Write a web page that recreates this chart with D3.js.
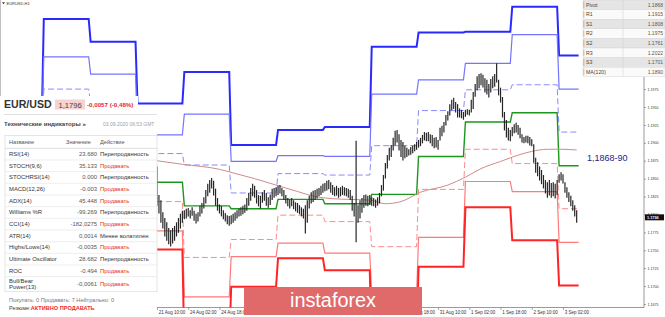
<!DOCTYPE html>
<html><head><meta charset="utf-8">
<script src="https://cdn.jsdelivr.net/npm/d3@7"></script>
<style>html,body{margin:0;padding:0;background:#fff;overflow:hidden}text{font-family:"Liberation Sans",Arial,sans-serif}</style>
</head><body><svg id="c" width="665" height="317" xmlns="http://www.w3.org/2000/svg"></svg>
<script>
// ---------- DATA ----------
// hourly bars from 21 Aug 10:00 to 3 Sep 09:00 (weekend skipped)
const highs = [1.1867,1.1827,1.1820,1.1803,1.1795,1.1789,1.1781,1.1778,1.1781,1.1784,1.1789,1.1795,1.1801,1.1805,
1.1806,1.1808,1.1809,1.1806,1.1810,1.1805,1.1801,1.1803,1.1812,1.1816,1.1824,1.1834,1.1843,1.1848,1.1851,1.1847,1.1836,1.1823,1.1814,1.1812,1.1806,1.1802,1.1799,1.1798,
1.1799,1.1801,1.1803,1.1806,1.1808,1.1810,1.1812,1.1814,1.1823,1.1830,1.1837,1.1843,1.1840,1.1834,1.1827,1.1826,1.1831,1.1834,1.1830,1.1824,1.1828,1.1836,1.1837,1.1838,
1.1840,1.1841,1.1837,1.1834,1.1827,1.1823,1.1821,1.1823,1.1820,1.1817,1.1816,1.1813,1.1810,1.1808,1.1813,1.1820,1.1826,1.1831,1.1833,1.1834,1.1836,1.1837,1.1840,1.1843,
1.1844,1.1847,1.1848,1.1845,1.1841,1.1838,1.1840,1.1837,1.1838,1.1840,1.1838,1.1837,1.1836,1.1834,1.1826,1.1816,1.1903,1.1813,1.1820,1.1823,1.1827,1.1828,1.1826,1.1827,
1.1824,1.1823,1.1821,1.1824,1.1830,1.1841,1.1855,1.1872,1.1883,1.1893,1.1897,1.1907,1.1917,1.1918,1.1912,1.1904,1.1901,1.1896,1.1893,1.1891,1.1894,1.1896,1.1898,1.1901,
1.1904,1.1907,1.1911,1.1915,1.1914,1.1915,1.1912,1.1911,1.1907,1.1908,1.1904,1.1921,1.1924,1.1929,1.1939,1.1944,1.1954,1.1960,1.1963,1.1957,1.1954,1.1948,1.1946,1.1943,
1.1946,1.1947,1.1946,1.1960,1.1971,1.1982,1.1993,1.1996,1.1997,1.1995,1.1990,1.1988,1.1982,1.1989,1.1993,1.1996,1.2011,1.1988,1.1977,1.1964,1.1943,1.1932,1.1921,1.1918,
1.1922,1.1926,1.1928,1.1925,1.1921,1.1912,1.1908,1.1910,1.1910,1.1908,1.1905,1.1898,1.1879,1.1873,1.1867,1.1862,1.1855,1.1848,1.1845,1.1848,1.1844,1.1845,1.1843,1.1848,
1.1856,1.1859,1.1856,1.1845,1.1838,1.1831,1.1826,1.1820,1.1813,1.1806];
const lows = [1.1813,1.1802,1.1789,1.1781,1.1770,1.1764,1.1759,1.1756,1.1760,1.1764,1.1770,1.1775,1.1781,1.1789,
1.1794,1.1795,1.1798,1.1795,1.1799,1.1792,1.1788,1.1791,1.1798,1.1802,1.1809,1.1816,1.1826,1.1831,1.1837,1.1827,1.1813,1.1806,1.1802,1.1798,1.1794,1.1791,1.1787,1.1785,
1.1787,1.1789,1.1792,1.1795,1.1798,1.1799,1.1801,1.1803,1.1806,1.1813,1.1820,1.1826,1.1824,1.1816,1.1812,1.1809,1.1817,1.1820,1.1813,1.1810,1.1814,1.1821,1.1824,1.1826,
1.1828,1.1830,1.1826,1.1821,1.1816,1.1812,1.1809,1.1812,1.1808,1.1805,1.1803,1.1801,1.1798,1.1795,1.1774,1.1789,1.1809,1.1816,1.1818,1.1821,1.1823,1.1826,1.1828,1.1831,
1.1833,1.1834,1.1836,1.1831,1.1828,1.1826,1.1827,1.1824,1.1826,1.1828,1.1827,1.1826,1.1824,1.1821,1.1806,1.1798,1.1762,1.1789,1.1795,1.1803,1.1810,1.1813,1.1812,1.1814,
1.1813,1.1812,1.1810,1.1813,1.1816,1.1826,1.1834,1.1851,1.1865,1.1876,1.1881,1.1890,1.1897,1.1901,1.1890,1.1881,1.1876,1.1879,1.1881,1.1883,1.1884,1.1886,1.1889,1.1891,
1.1894,1.1896,1.1900,1.1904,1.1903,1.1903,1.1900,1.1896,1.1893,1.1894,1.1891,1.1904,1.1910,1.1915,1.1925,1.1932,1.1939,1.1946,1.1948,1.1943,1.1936,1.1936,1.1935,1.1933,
1.1937,1.1940,1.1939,1.1943,1.1948,1.1965,1.1974,1.1977,1.1981,1.1978,1.1971,1.1968,1.1964,1.1971,1.1977,1.1979,1.1985,1.1967,1.1957,1.1936,1.1918,1.1908,1.1904,1.1903,
1.1910,1.1914,1.1915,1.1912,1.1907,1.1901,1.1900,1.1901,1.1900,1.1897,1.1896,1.1873,1.1859,1.1854,1.1848,1.1843,1.1837,1.1830,1.1824,1.1827,1.1824,1.1826,1.1823,1.1828,
1.1845,1.1848,1.1844,1.1831,1.1824,1.1818,1.1812,1.1806,1.1798,1.1789];
const lastPrice = 1.1796;

const dayNames = ['18 Aug','19 Aug','20 Aug','21 Aug','24 Aug','25 Aug','26 Aug','27 Aug','28 Aug','31 Aug','1 Sep','2 Sep','3 Sep'];
const dayStartBar = [-82,-58,-34,-10,14,38,62,86,110,134,158,182,206];
const lastBarEnd = 216;
const levelR3 = [1.1935,1.2073,1.2041,1.1955,1.1999,1.1897,1.1918,1.1922,1.2034,1.2054,1.2055,1.2090,1.2022];
const levelR2 = [1.1912,1.2020,1.1996,1.1911,1.1940,1.1874,1.1882,1.1881,1.1968,1.1988,1.2011,1.2051,1.1975];
const levelR1 = [1.1893,1.1975,1.1954,1.1885,1.1869,1.1830,1.1857,1.1855,1.1896,1.1945,1.1974,1.1981,1.1915];
const levelP  = [1.1870,1.1922,1.1910,1.1845,1.1812,1.1808,1.1821,1.1815,1.1828,1.1881,1.1929,1.1942,1.1868];
const levelS1 = [1.1851,1.1877,1.1875,1.1818,1.1740,1.1765,1.1799,1.1790,1.1755,1.1835,1.1891,1.1871,1.1808];
const levelS2 = [1.1828,1.1824,1.1830,1.1777,1.1685,1.1741,1.1760,1.1746,1.1688,1.1768,1.1846,1.1832,1.1761];
const levelS3 = [1.1809,1.1780,1.1795,1.1751,1.1614,1.1699,1.1739,1.1722,1.1615,1.1727,1.1810,1.1764,1.1701];

const maBars   = [0,13,32,39,50,61,72,81,90,99,109,117,125,135,149,158,166,176,182,192,200,207,215];
const maValues = [1.1875,1.1870,1.1863,1.1858,1.1850,1.1841,1.1832,1.1825,1.1822,1.1821,1.1820,1.1815,1.1818,1.1831,1.1841,1.1852,1.1864,1.1874,1.1880,1.1888,1.1891,1.1891,1.1890];

const xTickBars   = [0,16,32,48,64,80,96,112,128,144,160,176,192,208];
const xTickLabels = ['21 Aug 10:00','24 Aug 02:00','24 Aug 18:00','25 Aug 10:00','26 Aug 02:00','26 Aug 18:00','27 Aug 10:00','28 Aug 02:00','28 Aug 18:00','31 Aug 10:00','1 Sep 02:00','1 Sep 18:00','2 Sep 10:00','3 Sep 02:00'];
const yTicks = [1.1675,1.1700,1.1725,1.1750,1.1775,1.1800,1.1825,1.1850,1.1875,1.1900,1.1925,1.1950,1.1975];

const pivotNames  = ['Pivot','R1','S1','R2','S2','R3','S3','MA(120)'];
const pivotValues = ['1.1868','1.1915','1.1808','1.1975','1.1761','1.2022','1.1701','1.1890'];
const zoneLabel = '1,1868-90';

const indNames   = ['RSI(14)','STOCH(9,6)','STOCHRSI(14)','MACD(12,26)','ADX(14)','Williams %R','CCI(14)','ATR(14)','Highs/Lows(14)','Ultimate Oscillator','ROC','Bull/Bear|Power(13)'];
const indValues  = ['23.680','35.133','0.000','-0.003','45.448','-99.269','-182,0275','0,0014','-0,0035','28.682','-0.494','-0,0061'];
const indActions = ['Перепроданность','Продавать','Перепроданность','Продавать','Продавать','Перепроданность','Продавать','Менее волатилен','Продавать','Перепроданность','Продавать','Продавать'];

// ---------- DRAW ----------
const svg = d3.select('#c');
const PR = 644, PB = 307.5;
const x = d3.scaleLinear().domain([0,208]).range([157,563]);
const y = d3.scaleLinear().domain([1.1675,1.1950]).range([304,107]);

svg.append('rect').attr('width',665).attr('height',317).attr('fill','#fff');
svg.append('defs').append('clipPath').attr('id','pc').append('rect').attr('x',0).attr('y',0).attr('width',PR).attr('height',PB);
const plot = svg.append('g').attr('clip-path','url(#pc)');

// pivot level step lines
const levelDefs = [
  {v:levelR3,c:'#2a2aff',w:2},
  {v:levelR2,c:'#7474ff',w:1.2},
  {v:levelR1,c:'#8a8aff',w:1,d:'6,3'},
  {v:levelP, c:'#1d961d',w:1.4},
  {v:levelS1,c:'#ff8a8a',w:1,d:'6,3'},
  {v:levelS2,c:'#ff7a7a',w:1.2},
  {v:levelS3,c:'#ff2424',w:2}
];
const line = d3.line().x(d=>x(d[0])).y(d=>y(d[1]));
levelDefs.forEach(L=>{
  const pts=[];
  L.v.forEach((v,i)=>{
    const s=dayStartBar[i];
    const e=i<dayStartBar.length-1?dayStartBar[i+1]-1:lastBarEnd;
    pts.push([s,v],[e,v]);
  });
  plot.append('path').attr('d',line(pts)).attr('fill','none')
    .attr('stroke',L.c).attr('stroke-width',L.w).attr('stroke-dasharray',L.d||null);
});

// MA(120)
plot.append('path').datum(maBars.map((b,i)=>[b,maValues[i]]))
  .attr('d',d3.line().x(d=>x(d[0])).y(d=>y(d[1])).curve(d3.curveMonotoneX))
  .attr('fill','none').attr('stroke','#d28a8a').attr('stroke-width',1);

// bars
plot.selectAll('line.bar').data(highs).enter().append('line').attr('class','bar')
  .attr('x1',(d,i)=>x(i)).attr('x2',(d,i)=>x(i))
  .attr('y1',d=>y(d)).attr('y2',(d,i)=>y(lows[i])+0.5)
  .attr('stroke','#262626').attr('stroke-width',1.2);

// frame + axes
svg.append('line').attr('x1',0.5).attr('x2',0.5).attr('y1',0).attr('y2',PB).attr('stroke','#999').attr('stroke-width',0.6);
svg.append('line').attr('x1',0).attr('x2',PR).attr('y1',PB).attr('y2',PB).attr('stroke','#555').attr('stroke-width',0.6);
svg.append('line').attr('x1',PR).attr('x2',PR).attr('y1',0).attr('y2',PB).attr('stroke','#555').attr('stroke-width',0.6);

const ya = svg.append('g').attr('transform',`translate(${PR},0)`)
  .call(d3.axisRight(y).tickValues(yTicks).tickSize(2).tickFormat(d3.format('.4f')));
ya.select('.domain').remove();
ya.selectAll('line').attr('stroke','#555').attr('stroke-width',0.5);
ya.selectAll('text').attr('x',3.5).attr('font-size',3.6).attr('fill','#333').attr('font-family','Liberation Sans');

const xa = svg.append('g').attr('transform',`translate(0,${PB})`)
  .call(d3.axisBottom(x).tickValues(xTickBars).tickSize(2.5).tickFormat((d,i)=>xTickLabels[i]));
xa.select('.domain').remove();
xa.selectAll('line').attr('stroke','#555').attr('stroke-width',0.5);
xa.selectAll('text').attr('text-anchor','start').attr('x',1.2).attr('y',3).attr('dy','0.71em')
  .attr('font-size',4.5).attr('fill','#333').attr('font-family','Liberation Sans');

// current price marker
svg.append('rect').attr('x',PR+1).attr('y',y(lastPrice)-3).attr('width',19).attr('height',6).attr('fill','#111');
svg.append('text').attr('x',PR+3).attr('y',y(lastPrice)+1.3).attr('font-size',3.8).attr('fill','#fff').attr('font-weight','bold').text(d3.format('.4f')(lastPrice));

// zone label
svg.append('text').attr('x',587).attr('y',y(1.1879)+3).attr('font-family','Liberation Serif,serif')
  .attr('font-size',9).attr('fill','#23238c').text(zoneLabel);

// top-left symbol label
svg.append('path').attr('d','M2,2.2 L5,2.2 L3.5,4.2 Z').attr('fill','#333');
svg.append('text').attr('x',6.5).attr('y',4.6).attr('font-size',4).attr('fill','#333').text('EURUSD,H1');

// instaforex banner
svg.append('rect').attr('x',244).attr('y',287).attr('width',178).attr('height',28).attr('fill','#e06a6a');
svg.append('text').attr('x',333).attr('y',307).attr('text-anchor','middle').attr('font-family','Open Sans,Lato,sans-serif')
  .attr('font-weight',300).attr('font-size',20).attr('fill','#fff').attr('textLength',86).attr('lengthAdjust','spacingAndGlyphs').text('instaforex');

// pivot table (top-right)
const tb = svg.append('g');
const rowH = 9.6, tx0 = 583, tx1 = 665, tdiv = 623;
pivotNames.forEach((n,i)=>{
  const ty = i*rowH;
  tb.append('rect').attr('x',tx0).attr('y',ty).attr('width',tx1-tx0).attr('height',rowH)
    .attr('fill',i%2===0?'#e5e5e5':'#fafafa').attr('stroke','#d2d2d2').attr('stroke-width',0.4);
  tb.append('line').attr('x1',tx0+0.8).attr('x2',tx0+0.8).attr('y1',ty+1.5).attr('y2',ty+rowH-1.5).attr('stroke','#d9b46a').attr('stroke-width',1);
  tb.append('text').attr('x',tx0+3).attr('y',ty+6.6).attr('font-size',5.2).attr('fill','#4d4330').text(n);
  tb.append('text').attr('x',tx1-2).attr('y',ty+6.6).attr('font-size',5).attr('text-anchor','end').attr('fill','#555').text(pivotValues[i]);
});
tb.append('line').attr('x1',tdiv).attr('x2',tdiv).attr('y1',0).attr('y2',pivotNames.length*rowH).attr('stroke','#cfcfcf').attr('stroke-width',0.5);

// left indicator panel
const pn = svg.append('g');
pn.append('path').attr('d','M0,96 L138,96 L138,112 L157,112 L157,317 L0,317 Z').attr('fill','#fff');
pn.append('text').attr('x',4).attr('y',108.3).attr('font-size',10.6).attr('font-weight','bold').attr('fill','#333').text('EUR/USD');
pn.append('rect').attr('x',55).attr('y',99.5).attr('width',30).attr('height',10).attr('fill','#f5d3d3');
pn.append('text').attr('x',58.5).attr('y',107.6).attr('font-size',7.6).attr('fill','#444').text('1,1796');
pn.append('text').attr('x',87).attr('y',107.3).attr('font-size',6.2).attr('font-weight','bold').attr('fill','#e8262a').text('-0,0057 (-0,48%)');
pn.append('line').attr('x1',4).attr('x2',157).attr('y1',114.5).attr('y2',114.5).attr('stroke','#d8d8d8').attr('stroke-width',0.8);
pn.append('text').attr('x',4).attr('y',126.3).attr('font-size',6.1).attr('font-weight','bold').attr('fill','#444').text('Технические индикаторы »');
pn.append('text').attr('x',103).attr('y',126).attr('font-size',5).attr('fill','#a0a0a0').text('03.09.2020 06:53 GMT');

// table
const tl = 5, tr = 157, tTop = 135.5, hdrB = 148.3, rH = 11.67;
pn.append('rect').attr('x',tl).attr('y',tTop).attr('width',tr-tl).attr('height',291.7-tTop).attr('fill','none').attr('stroke','#dadada').attr('stroke-width',0.7);
const fs = 5.9;
pn.append('text').attr('x',9).attr('y',143.8).attr('font-size',fs-0.3).attr('fill','#555').text('Название');
pn.append('text').attr('x',66).attr('y',143.8).attr('font-size',fs-0.3).attr('fill','#555').text('Значение');
pn.append('text').attr('x',100).attr('y',143.8).attr('font-size',fs-0.3).attr('fill','#555').text('Действие');
pn.append('line').attr('x1',tl).attr('x2',tr).attr('y1',hdrB).attr('y2',hdrB).attr('stroke','#cfcfcf').attr('stroke-width',0.7);
indNames.forEach((n,i)=>{
  const top = hdrB + i*rH;
  const last = i===indNames.length-1;
  const cy = last ? top + 7.5 : top + rH/2;
  if(!last) pn.append('line').attr('x1',tl).attr('x2',tr).attr('y1',top+rH).attr('y2',top+rH).attr('stroke','#e2e2e2').attr('stroke-width',0.6);
  const parts = n.split('|');
  if(parts.length===1){
    pn.append('text').attr('x',9).attr('y',cy+2).attr('font-size',fs).attr('fill','#333').text(n);
  } else {
    pn.append('text').attr('x',9).attr('y',cy-1).attr('font-size',fs).attr('fill','#333').text(parts[0]);
    pn.append('text').attr('x',9).attr('y',cy+5).attr('font-size',fs).attr('fill','#333').text(parts[1]);
  }
  pn.append('text').attr('x',97).attr('y',cy+2).attr('font-size',fs).attr('text-anchor','end').attr('fill','#555').text(indValues[i]);
  const a = indActions[i];
  pn.append('text').attr('x',100).attr('y',cy+2).attr('font-size',fs).attr('fill',a==='Продавать'?'#ea2a2f':'#333').text(a);
});
pn.append('text').attr('x',9).attr('y',302).attr('font-size',5.6).attr('fill','#777')
  .text('Покупать: 0    Продавать: 7    Нейтрально: 0');
const rz = pn.append('text').attr('x',9).attr('y',310.3).attr('font-size',5.6);
rz.append('tspan').attr('fill','#444').text('Резюме:');
rz.append('tspan').attr('fill','#ea2a2f').attr('font-weight','bold').text('АКТИВНО ПРОДАВАТЬ');
</script>
</body></html>
